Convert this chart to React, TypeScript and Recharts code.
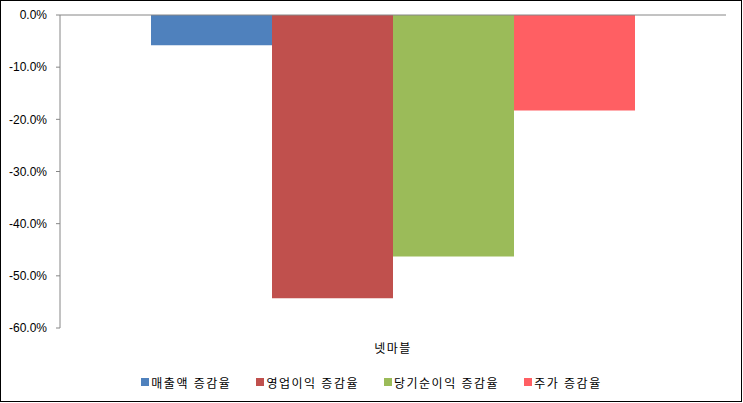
import { Bar, BarChart, Legend, ReferenceLine, XAxis, YAxis } from 'recharts';

const categories = ['넷마블'];
const seriesNames = ['매출액 증감율', '영업이익 증감율', '당기순이익 증감율', '주가 증감율'];
const seriesColors = ['#4f81bd', '#c0504d', '#9bbb59', '#ff5f63'];
const seriesValues = [[-5.8], [-54.3], [-46.3], [-18.3]];
const yTicks = [0, -10, -20, -30, -40, -50, -60];

const data = categories.map((name, i) => {
  const row: Record<string, string | number> = { name };
  seriesNames.forEach((s, j) => {
    row[s] = seriesValues[j][i];
  });
  return row;
});

const FONT = "'Liberation Sans', 'Noto Sans CJK KR', sans-serif";

function LegendRow() {
  return (
    <div
      style={{
        display: 'flex',
        justifyContent: 'center',
        alignItems: 'center',
        height: 20,
        paddingLeft: 17,
        fontSize: 12,
        fontFamily: FONT,
        color: '#000',
        letterSpacing: 1.5,
      }}
    >
      {seriesNames.map((s, i) => (
        <div
          key={s}
          style={{ display: 'flex', alignItems: 'center', marginRight: i < seriesNames.length - 1 ? 25 : 0 }}
        >
          <span style={{ width: 8, height: 8, background: seriesColors[i], marginRight: 2, display: 'inline-block' }} />
          <span>{s}</span>
        </div>
      ))}
    </div>
  );
}

export default function App() {
  return (
    <div style={{ position: 'relative', width: 743, height: 403, background: '#fff', fontFamily: FONT }}>
      <style>{'body{margin:0}'}</style>
      <BarChart
        width={743}
        height={403}
        data={data}
        margin={{ top: 15, right: 17, left: 0, bottom: 11 }}
        barGap={0}
        barCategoryGap={91}
      >
        <XAxis
          dataKey="name"
          axisLine={false}
          tickLine={false}
          height={44}
          tickMargin={10}
          tick={{ fill: '#000', fontSize: 12, style: { letterSpacing: 1.5 } }}
        />
        <YAxis
          domain={[-60, 0]}
          ticks={yTicks}
          width={60}
          tickSize={4}
          tickMargin={9}
          axisLine={{ stroke: '#868686' }}
          tickLine={{ stroke: '#868686' }}
          tick={{ fill: '#000', fontSize: 12 }}
          tickFormatter={(v: number) => `${v.toFixed(1)}%`}
        />
        {seriesNames.map((s, i) => (
          <Bar key={s} dataKey={s} fill={seriesColors[i]} isAnimationActive={false} />
        ))}
        <ReferenceLine y={0} stroke="#868686" />
        <Legend verticalAlign="bottom" content={() => <LegendRow />} />
      </BarChart>
      <div
        style={{
          position: 'absolute',
          left: 0,
          top: 0,
          width: 742,
          height: 402,
          border: '1px solid #000',
          boxSizing: 'border-box',
          pointerEvents: 'none',
        }}
      />
    </div>
  );
}
